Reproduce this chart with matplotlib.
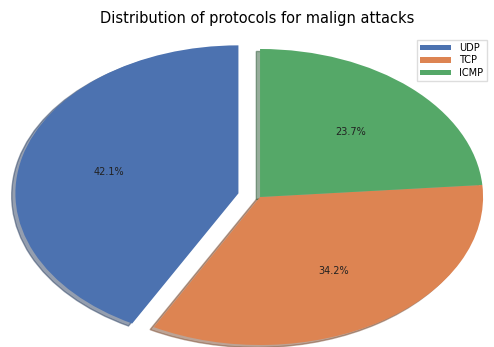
import matplotlib
matplotlib.use("Agg")
import matplotlib.pyplot as plt

# Share of malign attacks per protocol
protocols = ["UDP", "TCP", "ICMP"]
shares = [42.1, 34.2, 23.7]
colors = ["#4C72B0", "#DD8452", "#55A868"]
explode = (0.1, 0, 0)

plt.rcParams['font.family'] = ['DejaVu Sans']

fig = plt.figure(figsize=(4.94, 3.47), dpi=100)
ax = fig.add_axes([0, 0, 1, 1])

wedges, texts, autotexts = ax.pie(shares, explode=explode, colors=colors,
                                  autopct='%1.1f%%', startangle=90,
                                  shadow={'ox': -0.012, 'oy': -0.012, 'shade': 0.45},
                                  textprops={'fontsize': 7, 'color': '#222222'})

# stretch the pie to fill the figure like an unequal-aspect plot
ax.set_aspect('auto')
ax.set_xlim(-1.166, 1.049)
ax.set_ylim(-1.0135, 1.331)

ax.text(0.52, 0.948, 'Distribution of protocols for malign attacks',
        transform=ax.transAxes, ha='center', va='center', fontsize=10.5)

leg = ax.legend(wedges, protocols, loc='upper right', bbox_to_anchor=(0.995, 0.9),
                fontsize=7, frameon=True, fancybox=False, edgecolor='#dddddd',
                framealpha=1, borderpad=0.35, labelspacing=0.25, handlelength=3.2,
                handleheight=0.5)

fig.savefig("out.png", dpi=100)
